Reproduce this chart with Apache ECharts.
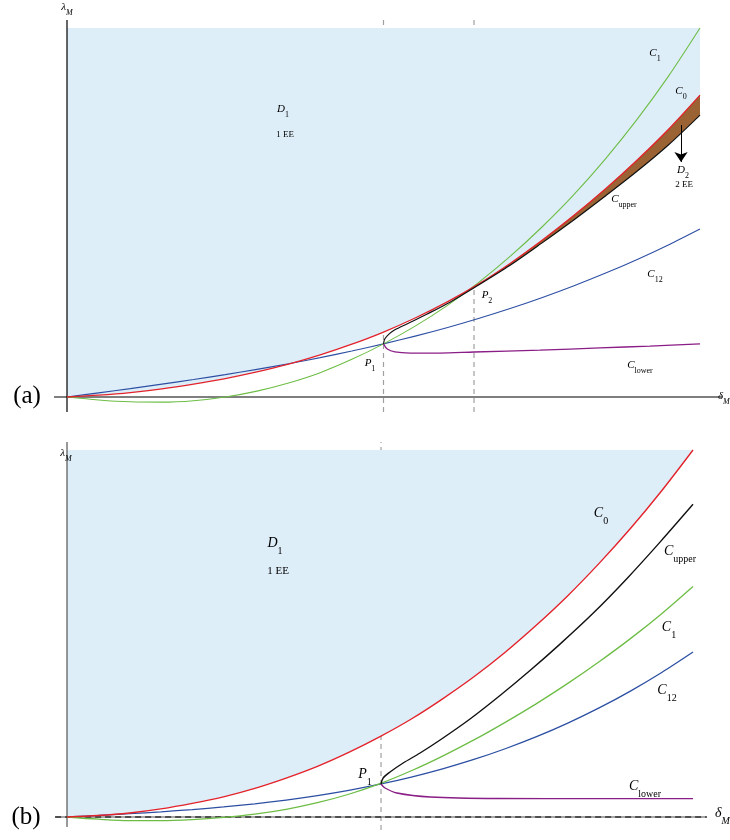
<!DOCTYPE html>
<html><head><meta charset="utf-8">
<script src="https://cdn.jsdelivr.net/npm/echarts@6/dist/echarts.min.js"></script>
<style>html,body{margin:0;padding:0;background:#fff}#c{width:730px;height:840px}</style>
</head><body><div id="c"></div>
<script>
// ---------- DATA ----------
// Panel (a)
const X_GRID = [0,0.5,1,1.5,2,2.5,3,3.5,4,4.5,5,5.5,6,6.5,7,7.5,8,8.5,9,9.5,10];
const C0_A  = [0,0.05,0.12,0.22,0.35,0.50,0.68,0.89,1.14,1.43,1.76,2.14,2.57,3.06,3.62,4.24,4.91,5.63,6.41,7.25,8.18];
const C1_A  = [0,-0.08,-0.13,-0.14,-0.10,0.0,0.16,0.38,0.66,1.02,1.44,1.92,2.47,3.10,3.81,4.60,5.47,6.44,7.51,8.69,10];
const C12_A = [0,0.112,0.228,0.348,0.473,0.606,0.749,0.902,1.067,1.245,1.439,1.65,1.878,2.127,2.397,2.69,3.008,3.351,3.722,4.122,4.553];
const CUP_AX = [5,5.02,5.09,5.18,5.37,5.69,6.05,6.45,7,7.5,8,8.5,9,9.5,10];
const CUP_AY = [1.44,1.57,1.71,1.82,1.98,2.25,2.57,2.98,3.57,4.17,4.79,5.44,6.11,6.83,7.64];
const CLO_AX = [5,5.06,5.18,5.42,5.89,6.43,7.47,8.42,9.21,10];
const CLO_AY = [1.44,1.3,1.22,1.19,1.19,1.22,1.27,1.33,1.38,1.44];
const P1_A = 5, P2_A = 6.43, TOP_A = 10;
const ARROW_A = [[9.70, 7.37], [9.70, 6.37]];
// Panel (b)
const C0_B  = [0,0.04,0.11,0.22,0.37,0.55,0.78,1.06,1.38,1.76,2.19,2.67,3.22,3.82,4.49,5.23,6.03,6.91,7.86,8.89,10];
const C1_B  = [0,-0.06,-0.1,-0.1,-0.07,-0.01,0.08,0.21,0.39,0.62,0.91,1.26,1.66,2.10,2.58,3.09,3.64,4.23,4.86,5.54,6.28];
const C12_B = [0,0.043,0.09,0.142,0.203,0.274,0.36,0.462,0.583,0.726,0.893,1.088,1.312,1.568,1.86,2.189,2.559,2.972,3.431,3.937,4.495];
const CUP_BX = [5.016,5.05,5.16,5.37,5.64,5.96,6.438,6.917,7.396,7.875,8.403,8.946,9.473,10];
const CUP_BY = [0.9,1.063,1.226,1.471,1.744,2.098,2.67,3.31,3.99,4.71,5.55,6.50,7.49,8.52];
const CLO_BX = [5.016,5.08,5.27,5.8,6.87,8.51,10];
const CLO_BY = [0.9,0.79,0.654,0.545,0.504,0.5,0.5];
const P1_B = 5.016, TOP_B = 10;
// axis ranges (data units)
const XR_A = [-0.2054, 10.3476], YR_A = [-0.4065, 10.271];
const XR_B = [-0.2077, 10.463],  YR_B = [-0.354, 10.272];

// ---------- STYLE ----------
const SERIF = "'Liberation Serif','DejaVu Serif',serif";
const COL = {red:'#e3232b', green:'#6dbd45', blue:'#2d4fa3', purple:'#8a1d86', black:'#111', fill:'#deeef9', brown:'#9b6233', dash:'#a0a0a0'};

const pairs = (xs, ys) => xs.map((x, i) => [x, ys[i]]);

function line(g, data, color, width, z, extra) {
  return Object.assign({type:'line', xAxisIndex:g, yAxisIndex:g, data, symbol:'none', silent:true, z,
    lineStyle:{color, width}, animation:false}, extra || {});
}
function poly(g, pts, color, z) {
  return {type:'custom', xAxisIndex:g, yAxisIndex:g, silent:true, z, clip:false, animation:false,
    data:[pts[0]],
    renderItem: (params, api) => ({type:'polygon', shape:{points: pts.map(p => api.coord(p))}, style:{fill:color}})};
}

// polygons
const redA = pairs(X_GRID, C0_A), redB = pairs(X_GRID, C0_B);
const fillA = [[0, TOP_A], [10, TOP_A]].concat(redA.slice().reverse());
const fillB = [[0, TOP_B], [10, TOP_B]].concat(redB.slice().reverse());
const cupA = pairs(CUP_AX, CUP_AY);
const bandUpper = [[CUP_AX[7], CUP_AY[7]]].concat(redA.filter(p => p[0] > CUP_AX[7]));
const bandLower = cupA.filter(p => p[0] >= CUP_AX[7]).reverse();
const bandA = bandUpper.concat(bandLower);

function lab(x, y, main, sub, size, subSize, opt) {
  opt = opt || {};
  const L = Math.round(size * 1.4);
  const text = sub ? `{m|${main}}{s|${sub}}` : `{m|${main}}`;
  return {type:'text', x, y, z:100, silent:true, style:{
    text, align: opt.align || 'center', verticalAlign:'middle', fill:'#000',
    rich:{
      m:{fontFamily:SERIF, fontStyle: opt.upright ? 'normal' : 'italic', fontSize:size, lineHeight:L, verticalAlign:'top', fill:'#000'},
      s:{fontFamily:SERIF, fontStyle: opt.subItalic ? 'italic' : 'normal', fontSize:subSize, lineHeight:subSize, verticalAlign:'bottom', fill:'#000'}
    }}};
}

const chart = echarts.init(document.getElementById('c'));
chart.setOption({
  animation:false,
  backgroundColor:'#fff',
  grid:[
    {left:54, top:18, width:668, height:394},
    {left:54, top:440, width:668, height:390}
  ],
  xAxis:[
    {type:'value', gridIndex:0, min:XR_A[0], max:XR_A[1], show:false},
    {type:'value', gridIndex:1, min:XR_B[0], max:XR_B[1], show:false}
  ],
  yAxis:[
    {type:'value', gridIndex:0, min:YR_A[0], max:YR_A[1], show:false},
    {type:'value', gridIndex:1, min:YR_B[0], max:YR_B[1], show:false}
  ],
  series:[
    // ---- panel (a)
    line(0, [[P1_A, YR_A[0]], [P1_A, YR_A[1]]], COL.dash, 1.2, 1, {lineStyle:{color:COL.dash, width:1.2, type:[5,4]}}),
    line(0, [[P2_A, YR_A[0]], [P2_A, YR_A[1]]], COL.dash, 1.2, 1, {lineStyle:{color:COL.dash, width:1.2, type:[5,4]}}),
    poly(0, fillA, COL.fill, 2),
    poly(0, bandA, COL.brown, 3),
    line(0, [[XR_A[0], 0], [XR_A[1], 0]], '#000', 1.2, 4),
    line(0, [[0, YR_A[0]], [0, 10.217]], '#000', 1.2, 4),
    line(0, pairs(X_GRID, C12_A), COL.blue, 1.1, 5, {smooth:0.3}),
    line(0, pairs(X_GRID, C1_A), COL.green, 1.1, 5, {smooth:0.3}),
    line(0, redA, COL.red, 1.3, 6, {smooth:0.3}),
    line(0, pairs(CLO_AX, CLO_AY), COL.purple, 1.3, 6, {smooth:0.3}),
    line(0, cupA, COL.black, 1.2, 7, {smooth:0.3}),
    {type:'lines', coordinateSystem:'cartesian2d', xAxisIndex:0, yAxisIndex:0, silent:true, z:8, animation:false,
     symbol:['none','arrow'], symbolSize:10,
     lineStyle:{color:'#000', width:1, opacity:1, curveness:0},
     data:[{coords: ARROW_A}]},
    // ---- panel (b)
    line(1, [[P1_B, YR_B[0]], [P1_B, 10.22]], COL.dash, 1.2, 1, {lineStyle:{color:COL.dash, width:1.2, type:[5,4]}}),
    poly(1, fillB, COL.fill, 2),
    line(1, [[0, -0.272], [0, 10.218]], '#555', 1.2, 4),
    line(1, [[-0.19, 0], [10.22, 0]], '#888', 1.6, 4),
    line(1, [[-0.19, 0], [10.22, 0]], '#333', 1.6, 4, {lineStyle:{color:'#333', width:1.6, type:[6,4]}}),
    line(1, pairs(X_GRID, C12_B), COL.blue, 1.3, 5, {smooth:0.3}),
    line(1, pairs(X_GRID, C1_B), COL.green, 1.3, 5, {smooth:0.3}),
    line(1, redB, COL.red, 1.4, 6, {smooth:0.3}),
    line(1, pairs(CLO_BX, CLO_BY), COL.purple, 1.4, 6, {smooth:0.3}),
    line(1, pairs(CUP_BX, CUP_BY), COL.black, 1.4, 7, {smooth:0.3})
  ],
  graphic:[
    // panel (a)
    lab(67, 9, 'λ', 'M', 11, 8, {subItalic:true}),
    lab(655, 55, 'C', '1', 11, 8),
    lab(681, 93, 'C', '0', 11, 8),
    lab(683, 172, 'D', '2', 11, 8),
    lab(684, 187, '2 EE', null, 9, 6, {upright:true}),
    lab(624, 201, 'C', 'upper', 11, 8),
    lab(655, 276, 'C', '12', 11, 8),
    lab(487, 297, 'P', '2', 11, 8),
    lab(370, 365, 'P', '1', 11, 8),
    lab(640, 367, 'C', 'lower', 11, 8),
    lab(283, 111, 'D', '1', 11, 8),
    lab(285, 137, '1 EE', null, 9, 6, {upright:true}),
    lab(718, 398, 'δ', 'M', 11, 8, {align:'left', subItalic:true}),
    lab(27, 401, '(a)', null, 25, 10, {upright:true}),
    // panel (b)
    lab(66, 455, 'λ', 'M', 11, 8, {subItalic:true}),
    lab(275, 546, 'D', '1', 14, 10),
    lab(278, 573, '1 EE', null, 11, 8, {upright:true}),
    lab(601, 516, 'C', '0', 14, 10),
    lab(680, 554, 'C', 'upper', 14, 10),
    lab(669, 630, 'C', '1', 14, 10),
    lab(667, 693, 'C', '12', 14, 10),
    lab(365, 777, 'P', '1', 14, 10),
    lab(645, 789, 'C', 'lower', 14, 10),
    lab(715, 816, 'δ', 'M', 14, 10, {align:'left', subItalic:true}),
    lab(26, 822, '(b)', null, 25, 10, {upright:true})
  ]
});
</script>
</body></html>
